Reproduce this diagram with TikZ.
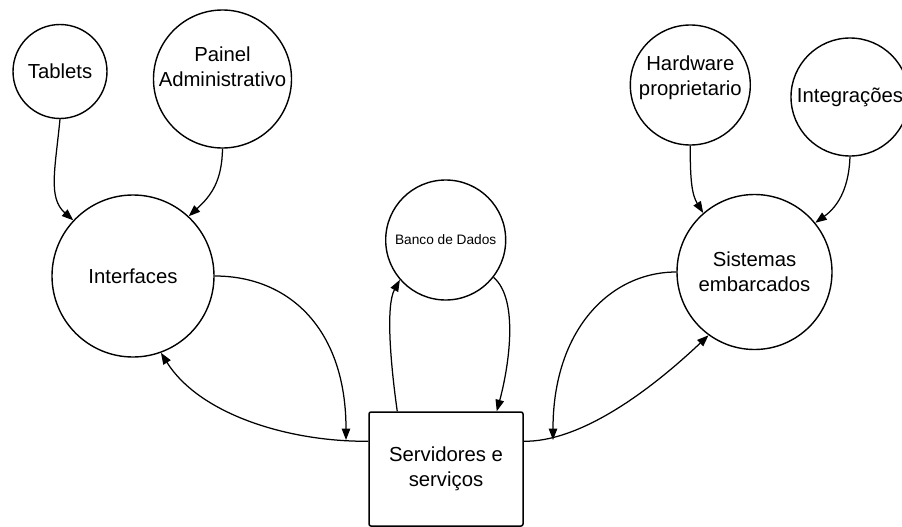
\documentclass[tikz,border=0pt]{standalone}
\usepackage{fontspec}
\setmainfont{Liberation Sans}
\usetikzlibrary{arrows.meta}
\begin{document}
\begin{tikzpicture}[x=1pt,y=-1pt,
  bubble/.style={draw, circle, line width=1.4pt, inner sep=0pt, align=center,
    font=\fontsize{20.3}{25}\selectfont},
  lbl/.style={align=center, inner sep=0pt, font=\fontsize{20.3}{25}\selectfont},
  serverbox/.style={draw, rectangle, rounded corners=2pt, line width=1.5pt,
    align=center, font=\fontsize{20.3}{25}\selectfont},
  flow/.style={line width=1.25pt, -{Triangle[length=11.5pt,width=8.5pt]}},
]
\useasboundingbox (0,0) rectangle (902,527);

% nodes
\node[bubble, minimum size=94pt]  (tab)    at (60,71.5)  {Tablets};
\node[bubble, minimum size=138pt] (painel) at (222.5,79) {};
\node[lbl] (painelt) at (222.5,67) {Painel\\Administrativo};
\node[bubble, minimum size=162pt] (iface)  at (133,276)  {Interfaces};
\node[bubble, minimum size=120pt, font=\fontsize{13.7}{16}\selectfont] (bd) at (445.7,240) {Banco de Dados};
\node[serverbox, minimum width=154pt, minimum height=114pt] (srv) at (446,469) {Servidores e\\serviços};
\node[bubble, minimum size=120pt] (hw) at (690.3,85) {};
\node[lbl] (hwt) at (690.3,78) {Hardware\\proprietario};
\node[bubble, minimum size=118pt] (integ) at (850,97) {Integrações};
\node[bubble, minimum size=155pt] (sis) at (754.5,272) {Sistemas\\embarcados};

% free ends of the two return arrows
\coordinate (lend) at (346,440);
\coordinate (rend) at (553,440);

% connectors
\draw[flow] (tab.south) .. controls (55,170) and (48,198) .. (iface.137);
\draw[flow] (painel.south) .. controls (222,180) and (212,195) .. (iface.47);
\draw[flow] (iface.east) .. controls (290,276) and (346,330) .. (lend);
\draw[flow] ([yshift=-30pt]srv.north west) .. controls (290,442) and (200,415) .. (iface.290);
\draw[flow] ([xshift=29pt]srv.north west) .. controls (390,360) and (386,305) .. (bd.221);
\draw[flow] (bd.322) .. controls (520,300) and (508,370) .. ([xshift=-27pt]srv.north east);
\draw[flow] (sis.west) .. controls (610,272) and (553,330) .. (rend);
\draw[flow] ([yshift=-30pt]srv.north east) .. controls (575,442) and (640,400) .. (sis.234);
\draw[flow] (hw.south) .. controls (690,180) and (692,195) .. (sis.131);
\draw[flow] (integ.south) .. controls (849,185) and (840,205) .. (sis.39);
\end{tikzpicture}
\end{document}
